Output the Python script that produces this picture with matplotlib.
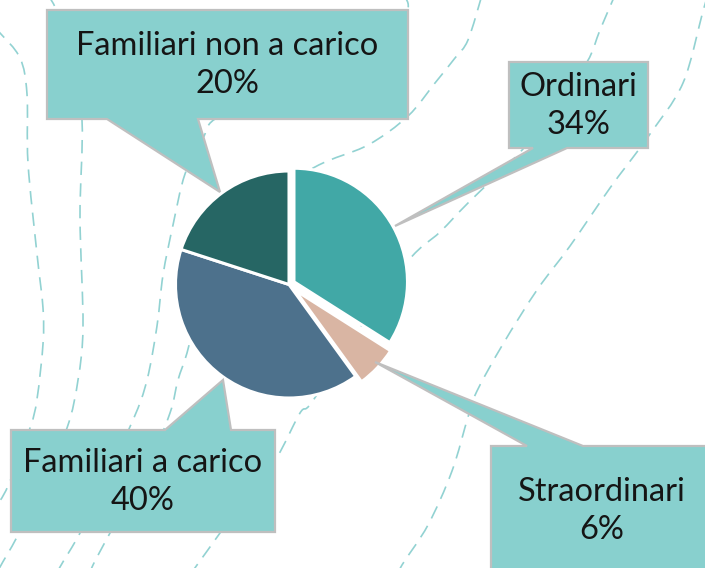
import matplotlib
matplotlib.use("Agg")
import matplotlib.pyplot as plt
from matplotlib.path import Path
from matplotlib.patches import PathPatch, Polygon
import numpy as np

# data
labels = ["Ordinari", "Straordinari", "Familiari a carico", "Familiari non a carico"]
shares = [34, 6, 40, 20]
colors = ["#41A8A6", "#D9B5A3", "#4D718C", "#266664"]
explode_frac = [0.05, 0.07, 0, 0]

W, H = 705, 568
BOX_FILL = "#88D0CE"
BOX_EDGE = "#BFBFBF"
LINE_COL = "#92D2D2"
PIE_CENTER = (289, 284.5)
PIE_R = 113.5

# callout shapes in pixel coords (box + pointer as one outline) and text centre
callouts = {
    "Ordinari": ([(509, 62), (648, 62), (648, 148), (567, 148), (395, 226), (533, 148), (509, 148)],
                 (578, 106)),
    "Straordinari": ([(491, 446), (527, 446), (375, 362), (583, 446), (713, 446), (713, 600), (491, 600)],
                     (602, 511)),
    "Familiari a carico": ([(11, 430), (165, 430), (223, 380), (231, 430), (275, 430), (275, 532), (11, 532)],
                           (142.5, 482)),
    "Familiari non a carico": ([(47, 10), (408, 10), (408, 119), (198, 119), (220, 192), (107, 119), (47, 119)],
                               (227, 65)),
}

# decorative dashed curves behind the chart
curves = [
    [(-5, 28), (0, 33), (20, 58), (27, 94), (28, 163), (37, 254), (43, 308), (43, 344),
     (37, 399), (30, 428), (8, 486), (-5, 508)],
    [(47, -5), (55, 7), (72, 50), (82, 120), (80, 217), (83, 326), (78, 380), (67, 428),
     (40, 490), (17, 537), (0, 567), (-3, 575)],
    [(404, -5), (407, 11), (380, 45), (300, 85), (220, 116), (203, 138), (185, 174), (173, 225),
     (163, 275), (157, 326), (147, 380), (133, 420), (100, 490), (80, 533), (60, 567), (57, 575)],
    [(90, 575), (93, 565), (110, 533), (150, 460), (170, 413), (178, 380), (187, 353), (205, 290),
     (250, 210), (315, 167), (368, 145), (408, 116), (435, 83), (455, 58), (468, 40), (482, -5)],
    [(190, 575), (197, 565), (220, 533), (250, 490), (277, 457), (300, 413), (312, 402), (355, 335),
     (408, 261), (440, 232), (468, 203), (523, 149), (555, 105), (587, 62), (600, 30), (615, -5)],
    [(708, -5), (703, 11), (683, 83), (650, 134), (637, 152), (610, 188), (570, 246), (537, 290),
     (503, 344), (477, 391), (468, 417), (452, 471), (428, 525), (402, 565), (399, 575)],
]


def smooth_path(pts):
    pts = np.array(pts, dtype=float)
    verts = [pts[0]]
    codes = [Path.MOVETO]
    n = len(pts)
    for i in range(n - 1):
        p0 = pts[max(i - 1, 0)]
        p1 = pts[i]
        p2 = pts[i + 1]
        p3 = pts[min(i + 2, n - 1)]
        c1 = p1 + (p2 - p0) / 6.0
        c2 = p2 - (p3 - p1) / 6.0
        verts += [c1, c2, p2]
        codes += [Path.CURVE4] * 3
    return Path(verts, codes)


fig = plt.figure(figsize=(W / 100, H / 100), dpi=100)
ax = fig.add_axes([0, 0, 1, 1])

for c in curves:
    ax.add_patch(PathPatch(smooth_path(c), fill=False, edgecolor=LINE_COL, lw=1.2,
                           linestyle=(0, (8, 5)), zorder=1))

# y axis is inverted below, so startangle=-90 + counterclock gives top start, clockwise
# pie's explode is in data units, so scale the fractions by the radius
wedges, _ = ax.pie(shares, colors=colors, explode=[e * PIE_R for e in explode_frac],
                   startangle=-90, counterclock=True,
                   center=PIE_CENTER, radius=PIE_R,
                   wedgeprops=dict(edgecolor="white", linewidth=2.2))
for w in wedges:
    w.set_zorder(2)

for lab, pct in zip(labels, shares):
    verts, (tx, ty) = callouts[lab]
    ax.add_patch(Polygon(verts, closed=True, facecolor=BOX_FILL, edgecolor=BOX_EDGE,
                         lw=1.6, joinstyle="miter", zorder=3))
    ax.text(tx, ty, f"{lab}\n{pct}%", ha="center", va="center", fontsize=23.5,
            family="Lato", fontweight="normal", color="#151515", linespacing=1.3, zorder=4)

ax.set_xlim(0, W)
ax.set_ylim(H, 0)
ax.set_aspect("auto")
ax.axis("off")

fig.savefig("out.png", dpi=100, facecolor="white")
